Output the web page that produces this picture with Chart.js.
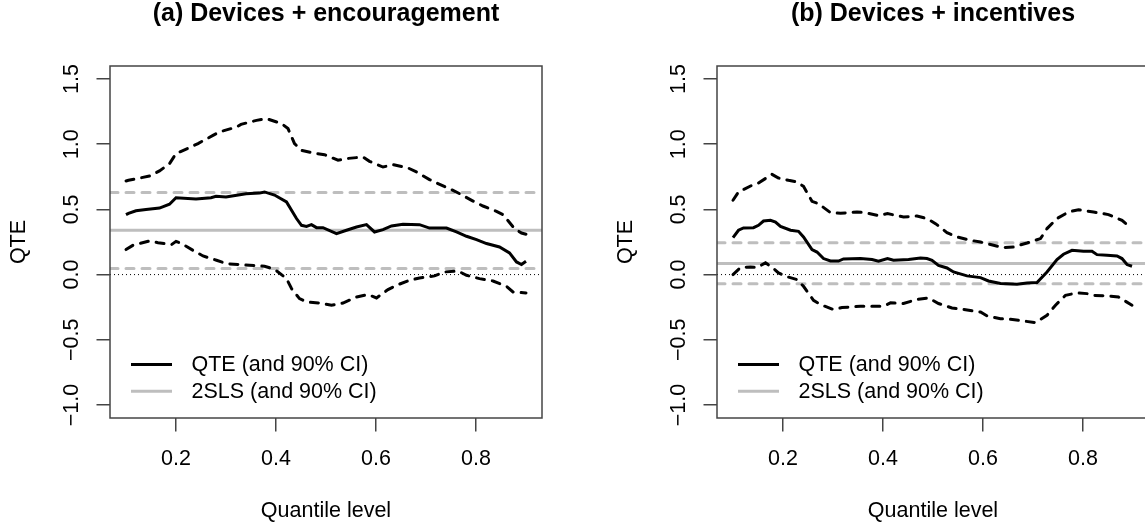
<!DOCTYPE html>
<html>
<head>
<meta charset="utf-8">
<script src="https://cdn.jsdelivr.net/npm/chart.js@4.4.0/dist/chart.umd.min.js"></script>
<style>
  html, body { margin: 0; padding: 0; background: #fff; overflow: hidden; }
  .panel { position: absolute; top: 0; width: 607px; height: 529px; }
</style>
</head>
<body>
<div class="panel" style="left:0"><canvas id="chartA"></canvas></div>
<div class="panel" style="left:607px"><canvas id="chartB"></canvas></div>
<script>
// axis setup
const xMin = 0.068, xMax = 0.932;
const yMin = -1.1, yMax = 1.6;
const xTicks = [0.2, 0.4, 0.6, 0.8];
const yTicks = [-1.0, -0.5, 0.0, 0.5, 1.0, 1.5];

// (a) Devices + encouragement
const qteAX = [0.10, 0.105, 0.12, 0.14, 0.167, 0.187, 0.20, 0.24, 0.27, 0.28, 0.30, 0.34, 0.367, 0.377, 0.397, 0.421, 0.441, 0.451, 0.461, 0.471, 0.481, 0.494, 0.521, 0.541, 0.561, 0.581, 0.597, 0.614, 0.631, 0.654, 0.687, 0.707, 0.741, 0.761, 0.781, 0.801, 0.821, 0.847, 0.867, 0.881, 0.891, 0.90];
const qteAY = [0.46, 0.47, 0.49, 0.50, 0.51, 0.54, 0.59, 0.58, 0.59, 0.60, 0.595, 0.62, 0.625, 0.634, 0.61, 0.557, 0.43, 0.378, 0.37, 0.383, 0.36, 0.36, 0.314, 0.34, 0.365, 0.383, 0.327, 0.345, 0.373, 0.386, 0.383, 0.357, 0.357, 0.327, 0.294, 0.268, 0.238, 0.212, 0.166, 0.097, 0.077, 0.102];
const hiAX = [0.10, 0.105, 0.147, 0.167, 0.187, 0.20, 0.227, 0.244, 0.274, 0.287, 0.321, 0.33, 0.361, 0.381, 0.411, 0.424, 0.437, 0.451, 0.474, 0.497, 0.524, 0.541, 0.574, 0.587, 0.614, 0.634, 0.664, 0.681, 0.707, 0.724, 0.754, 0.767, 0.794, 0.814, 0.841, 0.854, 0.877, 0.891, 0.90];
const hiAY = [0.718, 0.723, 0.756, 0.795, 0.851, 0.928, 0.974, 1.005, 1.068, 1.094, 1.132, 1.152, 1.183, 1.196, 1.158, 1.12, 1.005, 0.953, 0.933, 0.92, 0.877, 0.89, 0.902, 0.869, 0.825, 0.843, 0.818, 0.787, 0.729, 0.698, 0.646, 0.621, 0.564, 0.526, 0.485, 0.46, 0.353, 0.319, 0.31];
const loAX = [0.10, 0.114, 0.147, 0.164, 0.191, 0.20, 0.211, 0.234, 0.254, 0.281, 0.301, 0.327, 0.347, 0.377, 0.397, 0.421, 0.431, 0.447, 0.461, 0.487, 0.511, 0.534, 0.561, 0.584, 0.601, 0.624, 0.641, 0.667, 0.687, 0.717, 0.737, 0.764, 0.781, 0.807, 0.834, 0.861, 0.874, 0.90];
const loAY = [0.192, 0.225, 0.258, 0.245, 0.23, 0.255, 0.238, 0.186, 0.143, 0.11, 0.084, 0.077, 0.071, 0.064, 0.041, -0.031, -0.107, -0.184, -0.21, -0.218, -0.235, -0.218, -0.172, -0.153, -0.179, -0.115, -0.082, -0.044, -0.026, -0.01, 0.02, 0.028, -0.005, -0.031, -0.049, -0.09, -0.133, -0.141];
const tslsA = [0.046, 0.34, 0.63]; // lower CI, estimate, upper CI

// (b) Devices + incentives
const qteBX = [0.10, 0.111, 0.121, 0.141, 0.151, 0.161, 0.175, 0.185, 0.195, 0.215, 0.231, 0.241, 0.258, 0.268, 0.281, 0.295, 0.311, 0.321, 0.355, 0.378, 0.391, 0.409, 0.421, 0.451, 0.475, 0.488, 0.498, 0.511, 0.528, 0.541, 0.568, 0.595, 0.611, 0.635, 0.668, 0.688, 0.708, 0.728, 0.748, 0.761, 0.778, 0.801, 0.818, 0.828, 0.848, 0.868, 0.878, 0.888, 0.898];
const qteBY = [0.284, 0.34, 0.358, 0.36, 0.378, 0.411, 0.416, 0.403, 0.37, 0.34, 0.332, 0.289, 0.192, 0.173, 0.123, 0.104, 0.104, 0.12, 0.123, 0.115, 0.102, 0.123, 0.11, 0.115, 0.127, 0.123, 0.11, 0.071, 0.051, 0.02, -0.01, -0.023, -0.049, -0.069, -0.074, -0.064, -0.061, 0.02, 0.115, 0.156, 0.186, 0.179, 0.179, 0.153, 0.148, 0.143, 0.123, 0.077, 0.064];
const hiBX = [0.10, 0.111, 0.138, 0.151, 0.178, 0.191, 0.211, 0.228, 0.241, 0.258, 0.271, 0.295, 0.315, 0.348, 0.365, 0.391, 0.409, 0.441, 0.468, 0.488, 0.505, 0.528, 0.548, 0.575, 0.595, 0.621, 0.641, 0.661, 0.688, 0.715, 0.728, 0.748, 0.771, 0.791, 0.821, 0.851, 0.878, 0.895];
const hiBY = [0.57, 0.634, 0.685, 0.703, 0.769, 0.741, 0.723, 0.71, 0.677, 0.562, 0.544, 0.475, 0.47, 0.48, 0.475, 0.452, 0.468, 0.442, 0.449, 0.43, 0.391, 0.322, 0.289, 0.263, 0.25, 0.225, 0.207, 0.212, 0.242, 0.276, 0.353, 0.43, 0.48, 0.498, 0.48, 0.46, 0.416, 0.36];
const loBX = [0.10, 0.115, 0.135, 0.148, 0.165, 0.18, 0.191, 0.205, 0.228, 0.241, 0.261, 0.275, 0.301, 0.318, 0.355, 0.401, 0.415, 0.441, 0.468, 0.491, 0.511, 0.538, 0.558, 0.595, 0.608, 0.635, 0.655, 0.681, 0.705, 0.728, 0.745, 0.765, 0.788, 0.808, 0.821, 0.851, 0.871, 0.898];
const loBY = [0.0, 0.054, 0.059, 0.054, 0.09, 0.05, 0.013, -0.013, -0.038, -0.09, -0.197, -0.23, -0.268, -0.253, -0.243, -0.243, -0.217, -0.222, -0.19, -0.179, -0.222, -0.256, -0.266, -0.287, -0.317, -0.338, -0.343, -0.356, -0.368, -0.312, -0.235, -0.159, -0.141, -0.146, -0.159, -0.164, -0.172, -0.235];
const tslsB = [-0.07, 0.085, 0.245];

const legendLabels = ['QTE (and 90% CI)', '2SLS (and 90% CI)'];
const FONT = '"Liberation Sans", Arial, Helvetica, sans-serif';
const GREY = '#bebebe';

Chart.defaults.font.family = FONT;
Chart.defaults.font.size = 21.5;
Chart.defaults.color = '#000';

function pts(xs, ys) {
    return xs.map((x, i) => ({ x: x, y: ys[i] }));
}
function hline(v) {
    return [{ x: xMin, y: v }, { x: xMax, y: v }];
}
function fmt(v) {
    return v.toFixed(1).replace('-', '\u2212');
}

// R-style extras: rotated y labels, box, title, legend
const rStyle = {
    id: 'rStyle',
    afterDraw(chart, args, opts) {
        const { ctx, chartArea: a } = chart;
        const y = chart.scales.y;
        ctx.save();
        ctx.fillStyle = '#000';
        ctx.font = '21.5px ' + FONT;
        ctx.textAlign = 'center';
        ctx.textBaseline = 'middle';
        yTicks.forEach(v => {
            ctx.save();
            ctx.translate(a.left - 37.5, y.getPixelForValue(v));
            ctx.rotate(-Math.PI / 2);
            ctx.fillText(fmt(v), 0, 0);
            ctx.restore();
        });

        ctx.strokeStyle = '#444';
        ctx.lineWidth = 1.5;
        ctx.strokeRect(a.left, a.top, a.right - a.left, a.bottom - a.top);

        ctx.font = 'bold 25px ' + FONT;
        ctx.textBaseline = 'alphabetic';
        ctx.fillText(opts.title, (a.left + a.right) / 2, 21);

        // legend
        ctx.font = '21.5px ' + FONT;
        ctx.textAlign = 'left';
        ctx.textBaseline = 'middle';
        ctx.lineWidth = 3;
        [['#000', 53.5], [GREY, 26.8]].forEach((s, i) => {
            const ly = a.bottom - s[1];
            ctx.strokeStyle = s[0];
            ctx.beginPath();
            ctx.moveTo(a.left + 21, ly);
            ctx.lineTo(a.left + 62, ly);
            ctx.stroke();
            ctx.fillText(legendLabels[i], a.left + 81.5, ly + 1);
        });
        ctx.restore();
    }
};

function makeChart(id, title, qX, qY, hX, hY, lX, lY, tsls) {
    const solid = { borderWidth: 3, pointRadius: 0, tension: 0, fill: false };
    const dashed = Object.assign({}, solid, { borderDash: [8, 8], borderCapStyle: 'round' });
    new Chart(document.getElementById(id), {
        type: 'line',
        data: {
            datasets: [
                Object.assign({ label: 'QTE', data: pts(qX, qY), borderColor: '#000' }, solid),
                Object.assign({ label: 'upper', data: pts(hX, hY), borderColor: '#000' }, dashed),
                Object.assign({ label: 'lower', data: pts(lX, lY), borderColor: '#000' }, dashed),
                Object.assign({ label: '2SLS', data: hline(tsls[1]), borderColor: GREY }, solid),
                Object.assign({ label: '2SLS hi', data: hline(tsls[2]), borderColor: GREY }, dashed),
                Object.assign({ label: '2SLS lo', data: hline(tsls[0]), borderColor: GREY }, dashed),
                { label: 'zero', data: hline(0), borderColor: '#000', borderWidth: 1, borderDash: [1, 3], pointRadius: 0 }
            ]
        },
        options: {
            responsive: true,
            maintainAspectRatio: false,
            animation: false,
            layout: { padding: { top: 66, left: 0, right: 65, bottom: 0 } },
            plugins: {
                legend: { display: false },
                tooltip: { enabled: false },
                rStyle: { title: title }
            },
            scales: {
                x: {
                    type: 'linear',
                    min: xMin,
                    max: xMax,
                    afterBuildTicks: s => { s.ticks = xTicks.map(v => ({ value: v })); },
                    afterFit: s => { s.height = 111; },
                    ticks: { padding: 15, maxRotation: 0, callback: v => fmt(v) },
                    grid: { drawOnChartArea: false, drawTicks: true, tickLength: 13.5, color: '#444', lineWidth: 1.5 },
                    border: { display: false },
                    title: { display: true, text: 'Quantile level', padding: { top: 4, bottom: 5 } }
                },
                y: {
                    type: 'linear',
                    min: yMin,
                    max: yMax,
                    afterBuildTicks: s => { s.ticks = yTicks.map(v => ({ value: v })); },
                    afterFit: s => { s.width = 110; },
                    ticks: { display: false },
                    grid: { drawOnChartArea: false, drawTicks: true, tickLength: 13.5, color: '#444', lineWidth: 1.5 },
                    border: { display: false },
                    title: { display: true, text: 'QTE', padding: { top: 5.7, bottom: 4 } }
                }
            }
        },
        plugins: [rStyle]
    });
}

makeChart('chartA', '(a) Devices + encouragement', qteAX, qteAY, hiAX, hiAY, loAX, loAY, tslsA);
makeChart('chartB', '(b) Devices + incentives', qteBX, qteBY, hiBX, hiBY, loBX, loBY, tslsB);
</script>
</body>
</html>
